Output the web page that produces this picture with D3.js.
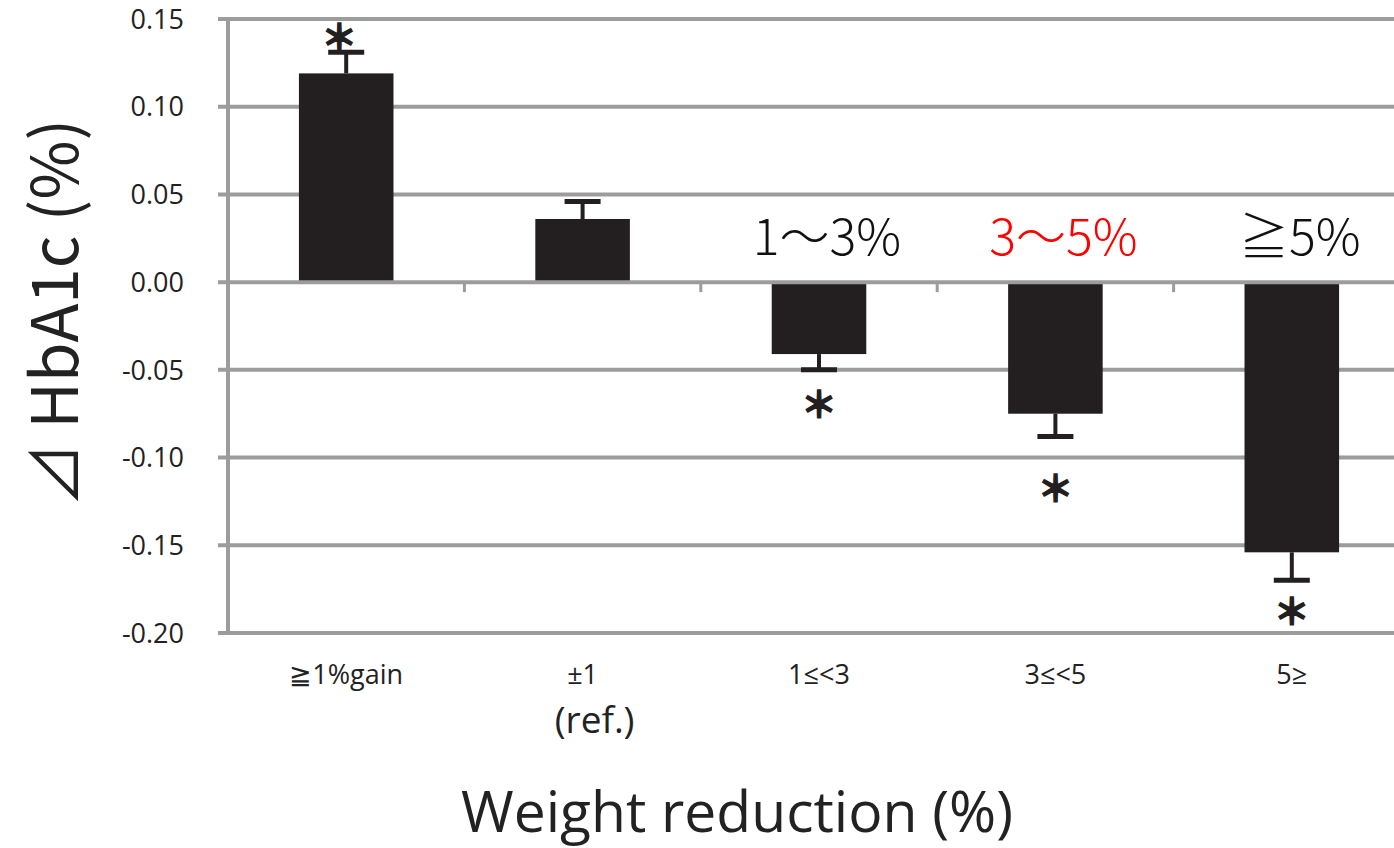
<!DOCTYPE html>
<html>
<head>
<meta charset="utf-8">
<script src="https://cdn.jsdelivr.net/npm/d3@7"></script>
<style>
  html, body { margin: 0; padding: 0; background: #fff; }
  svg { display: block; }
</style>
</head>
<body>
<svg id="chart" width="1394" height="848"></svg>
<script>
// Change in HbA1c by weight-change group (mean with error bar)
const categories   = ["≧1%gain", "±1", "1≤<3", "3≤<5", "5≥"];
const subLabels    = ["", "(ref.)", "", "", ""];
const meanChange   = [0.119, 0.036, -0.041, -0.075, -0.154];
const errorEnd     = [0.131, 0.046, -0.050, -0.088, -0.170];
const significant  = [true, false, true, true, true];
const starValue    = [0.139, null, -0.070, -0.118, -0.188];
const noteLabels   = ["", "", "1～3%", "3～5%", "≧5%"];
const yTicks       = [0.15, 0.10, 0.05, 0.00, -0.05, -0.10, -0.15, -0.20];
const yTickLabels  = ["0.15", "0.10", "0.05", "0.00", "-0.05", "-0.10", "-0.15", "-0.20"];

const W = 1394, H = 848;
const svg = d3.select("#chart");

const x = d3.scaleBand()
  .domain(categories)
  .range([228, 1410])
  .paddingInner(0.6)
  .paddingOuter(0.3);

const y = d3.scaleLinear()
  .domain([0.15, -0.20])
  .range([19, 633]);

const gridColor = "#9c9c9c";
const barColor = "#231f20";
const latin = "'Open Sans', 'Noto Sans', sans-serif";
const cjk = "'Noto Sans CJK JP', 'Noto Sans', sans-serif";

// horizontal gridlines (zero line drawn later, above the bars)
svg.append("g")
  .selectAll("line")
  .data(yTicks.filter(d => d !== 0))
  .join("line")
  .attr("x1", 218).attr("x2", W)
  .attr("y1", d => y(d)).attr("y2", d => y(d))
  .attr("stroke", gridColor)
  .attr("stroke-width", 4);

// y axis line
svg.append("line")
  .attr("x1", 228).attr("x2", 228)
  .attr("y1", y(0.15) - 2).attr("y2", y(-0.20) + 2)
  .attr("stroke", gridColor)
  .attr("stroke-width", 4);

// y tick labels
svg.append("g")
  .selectAll("text")
  .data(yTicks)
  .join("text")
  .attr("x", 184)
  .attr("y", d => y(d))
  .attr("dy", "0.36em")
  .attr("text-anchor", "end")
  .attr("font-family", latin)
  .attr("font-size", 27)
  .attr("fill", "#222")
  .text((d, i) => yTickLabels[i]);

// bars
svg.append("g")
  .selectAll("rect")
  .data(categories)
  .join("rect")
  .attr("x", d => x(d))
  .attr("width", x.bandwidth())
  .attr("y", (d, i) => Math.min(y(meanChange[i]), y(0)))
  .attr("height", (d, i) => Math.abs(y(meanChange[i]) - y(0)))
  .attr("fill", barColor);

// zero line with category tick marks
svg.append("line")
  .attr("x1", 218).attr("x2", W)
  .attr("y1", y(0)).attr("y2", y(0))
  .attr("stroke", gridColor)
  .attr("stroke-width", 4);

svg.append("g")
  .selectAll("line")
  .data(d3.range(1, categories.length))
  .join("line")
  .attr("x1", i => x.range()[0] + i * x.step())
  .attr("x2", i => x.range()[0] + i * x.step())
  .attr("y1", y(0)).attr("y2", y(0) + 10)
  .attr("stroke", gridColor)
  .attr("stroke-width", 3);

// error bars
const eb = svg.append("g").attr("stroke", barColor);
categories.forEach((c, i) => {
  const cx = x(c) + x.bandwidth() / 2;
  eb.append("line")
    .attr("x1", cx).attr("x2", cx)
    .attr("y1", y(meanChange[i])).attr("y2", y(errorEnd[i]))
    .attr("stroke-width", 4);
  eb.append("line")
    .attr("x1", cx - 18).attr("x2", cx + 18)
    .attr("y1", y(errorEnd[i])).attr("y2", y(errorEnd[i]))
    .attr("stroke-width", 5);
});

// significance markers
svg.append("g")
  .selectAll("text")
  .data(categories.filter((c, i) => significant[i]))
  .join("text")
  .attr("x", c => x(c) + x.bandwidth() / 2 - (categories.indexOf(c) === 0 ? 7 : 0))
  .attr("y", c => y(starValue[categories.indexOf(c)]))
  .attr("dy", "0.36em")
  .attr("text-anchor", "middle")
  .attr("font-family", cjk)
  .attr("font-weight", 700)
  .attr("font-size", 36)
  .attr("fill", barColor)
  .attr("stroke", barColor)
  .attr("stroke-width", 1.5)
  .text("＊");

// group notes above the zero line
const noteColors = ["#000", "#000", "#111", "#ff0000", "#111"];
svg.append("g")
  .selectAll("text")
  .data(categories.filter((c, i) => noteLabels[i]))
  .join("text")
  .attr("x", c => x(c) + x.bandwidth() / 2 + 8)
  .attr("y", y(0) - 27)
  .attr("text-anchor", "middle")
  .attr("font-family", cjk)
  .attr("font-weight", 300)
  .attr("font-size", 50)
  .attr("fill", c => noteColors[categories.indexOf(c)])
  .text(c => noteLabels[categories.indexOf(c)]);

// x category labels
svg.append("g")
  .selectAll("text")
  .data(categories)
  .join("text")
  .attr("x", c => x(c) + x.bandwidth() / 2)
  .attr("y", 684)
  .attr("text-anchor", "middle")
  .attr("font-family", latin)
  .attr("font-size", 27)
  .attr("fill", "#222")
  .text(c => c);

svg.append("g")
  .selectAll("text")
  .data(categories.filter((c, i) => subLabels[i]))
  .join("text")
  .attr("x", c => x(c) + x.bandwidth() / 2 + 12)
  .attr("y", 733)
  .attr("text-anchor", "middle")
  .attr("font-family", latin)
  .attr("font-size", 37)
  .attr("fill", "#222")
  .text(c => subLabels[categories.indexOf(c)]);

// axis titles
svg.append("text")
  .attr("x", 737)
  .attr("y", 832)
  .attr("text-anchor", "middle")
  .attr("font-family", latin)
  .attr("font-size", 57)
  .attr("fill", "#222")
  .text("Weight reduction (%)");

svg.append("text")
  .attr("transform", "translate(78,313) rotate(-90)")
  .attr("text-anchor", "middle")
  .attr("font-family", cjk)
  .attr("font-size", 64)
  .attr("fill", "#222")
  .text("⊿ HbA1c (%)");
</script>
</body>
</html>
